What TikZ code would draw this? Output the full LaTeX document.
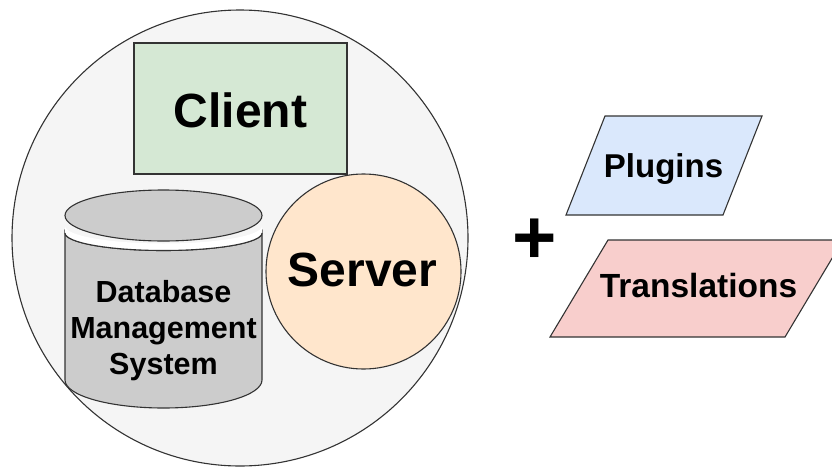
\documentclass[tikz,border=0pt]{standalone}
\usepackage{fontspec}
\setmainfont{Liberation Sans}
\begin{document}
\begin{tikzpicture}[x=1pt,y=-1pt,
  outline/.style={draw=black!80, line width=1.1pt},
  lbl/.style={font=\bfseries, text=black, inner sep=0pt, anchor=center}]
\useasboundingbox (0,0) rectangle (832,466);
% big circle
\path[outline, fill=black!4] (240,238) circle[radius=228pt];
% client
\path[outline, fill={rgb,255:red,213;green,232;blue,212}] (134,43) rectangle (347,174);
\node[lbl, font=\fontsize{48}{56}\selectfont\bfseries] (client) at (240.5,110) {Client};
% server
\path[outline, fill={rgb,255:red,255;green,230;blue,204}] (363.5,271.5) circle[radius=97.5pt];
\node[lbl, font=\fontsize{48}{56}\selectfont\bfseries] (server) at (362.5,270) {Server};
% database cylinder body
\path[outline, fill=black!20] (65,233) arc[start angle=180,end angle=360,x radius=98.5pt,y radius=17.5pt]
  -- (262,380) arc[start angle=0,end angle=-180,x radius=98.5pt,y radius=28pt] -- cycle;
% white gap
\fill[white] (65,233) arc[start angle=180,end angle=360,x radius=98.5pt,y radius=17.5pt]
  -- (262,226) arc[start angle=0,end angle=-180,x radius=98.5pt,y radius=17.5pt] -- cycle;
\draw[draw=black!80, line width=1.1pt] (65,233) arc[start angle=180,end angle=360,x radius=98.5pt,y radius=17.5pt];
% top ellipse
\path[outline, fill=black!20] (163.5,215.5) ellipse[x radius=98.5pt, y radius=25.5pt];
\node[lbl, font=\fontsize{30.5}{36}\selectfont\bfseries, align=center] (dbms) at (163.5,331) {Database\\Management\\System};
% plus
\node[lbl, font=\fontsize{76}{80}\selectfont\bfseries] (plus) at (534.5,241) {+};
% plugins
\path[outline, fill={rgb,255:red,218;green,232;blue,252}] (605,116) -- (762,116) -- (723,215) -- (566,215) -- cycle;
\node[lbl, font=\fontsize{33}{38}\selectfont\bfseries] (plugins) at (663.5,169) {Plugins};
% translations
\path[outline, fill={rgb,255:red,248;green,206;blue,204}] (608,240) -- (843,240) -- (785,337) -- (550,337) -- cycle;
\node[lbl, font=\fontsize{33.5}{38}\selectfont\bfseries] (translations) at (698.5,286) {Translations};
\end{tikzpicture}
\end{document}
